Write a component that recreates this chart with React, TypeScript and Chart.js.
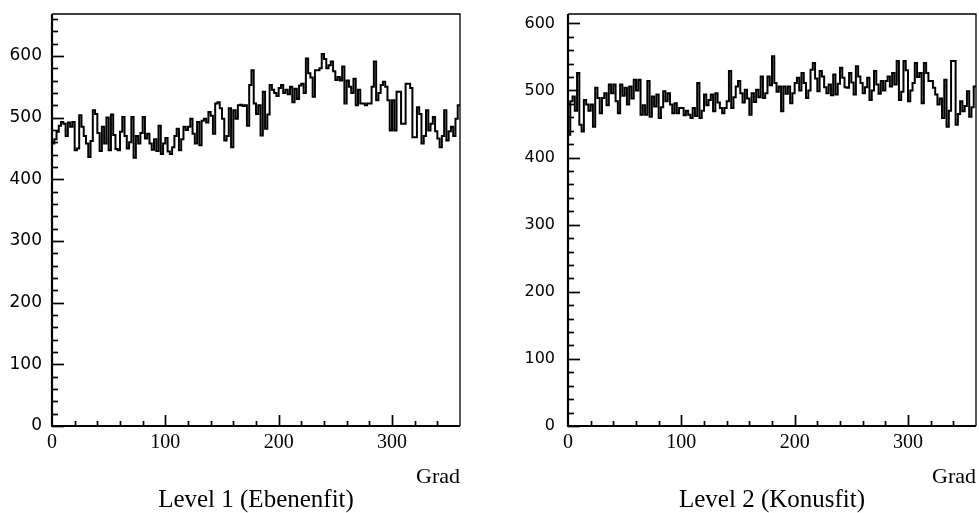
import React, { useEffect, useRef } from "react";
import { Chart, registerables } from "chart.js";

Chart.register(...registerables);

// ---------- data ----------
const BIN_WIDTH = 2; // degrees per bin
const X_RANGE = [0, 360];
const X_MAJOR_STEP = 100;
const Y_MAJOR_STEP = 100;
const MINOR_STEP = 20;
const X_AXIS_LABEL = "Grad";
const PANEL_TITLES = ["Level 1 (Ebenenfit)", "Level 2 (Konusfit)"];
const PANEL_Y_MAX = [668, 614];

// Level 1 (Ebenenfit): counts per 2-degree bin, 0..360
const LEVEL1_COUNTS = [
  458, 465, 477, 487, 493, 490, 470, 492, 485, 493,
  447, 450, 504, 485, 470, 458, 436, 462, 512, 506,
  475, 446, 485, 458, 500, 447, 505, 472, 449, 447,
  477, 501, 470, 450, 460, 501, 435, 470, 458, 475,
  501, 466, 474, 458, 448, 465, 446, 487, 441, 458,
  467, 445, 441, 452, 470, 482, 447, 465, 485, 480,
  485, 498, 474, 458, 493, 455, 495, 498, 492, 509,
  503, 474, 523, 525, 515, 498, 463, 470, 515, 452,
  512, 498, 520, 521, 519, 520, 487, 553, 577, 523,
  506, 520, 471, 542, 482, 505, 553, 545, 540, 535,
  548, 553, 540, 545, 538, 550, 525, 547, 530, 552,
  555, 540, 596, 572, 565, 534, 577, 577, 580, 603,
  595, 580, 585, 591, 575, 561, 566, 560, 583, 523,
  560, 550, 540, 563, 520, 545, 523, 523, 520, 523,
  523, 550, 591, 528, 540, 553, 558, 550, 528, 479,
  528, 479, 542, 542, 490, 490, 555, 555, 548, 468,
  468, 517, 506, 458, 470, 512, 479, 490, 501, 478,
  466, 452, 470, 512, 463, 478, 485, 470, 498, 520,
];

// Level 2 (Konusfit): counts per 2-degree bin, 0..360
const LEVEL2_COUNTS = [
  434, 484, 491, 470, 526, 449, 439, 486, 479, 470,
  479, 446, 504, 489, 466, 489, 496, 478, 509, 496,
  509, 484, 466, 509, 492, 504, 479, 506, 488, 516,
  500, 516, 464, 478, 464, 514, 461, 491, 476, 494,
  459, 475, 499, 484, 496, 479, 466, 481, 466, 474,
  474, 463, 470, 464, 459, 474, 462, 511, 459, 470,
  494, 478, 486, 494, 469, 496, 482, 474, 466, 474,
  484, 529, 474, 490, 506, 514, 496, 482, 501, 488,
  464, 496, 483, 501, 490, 521, 489, 496, 521, 508,
  551, 511, 498, 506, 469, 506, 495, 506, 481, 496,
  511, 519, 500, 526, 511, 489, 500, 531, 541, 518,
  499, 529, 521, 505, 496, 509, 493, 524, 494, 510,
  534, 519, 505, 504, 526, 512, 494, 536, 521, 511,
  496, 505, 519, 486, 500, 529, 509, 495, 514, 500,
  514, 521, 506, 526, 509, 544, 486, 498, 544, 530,
  484, 500, 511, 541, 520, 526, 481, 541, 526, 514,
  514, 504, 494, 479, 488, 459, 516, 446, 470, 544,
  544, 449, 465, 484, 469, 477, 499, 461, 475, 506,
];

// ---------- helpers ----------
function histogramPoints(counts: number[]) {
  const pts = counts.map((v, i) => ({ x: X_RANGE[0] + i * BIN_WIDTH, y: v }));
  pts.push({ x: X_RANGE[1], y: counts[counts.length - 1] });
  return pts;
}

const frameTicksPlugin = {
  id: "frameTicks",
  afterDatasetsDraw(chart: any) {
    const { ctx, chartArea } = chart;
    const { left, right, top, bottom } = chartArea;
    const xs = chart.scales.x;
    const ys = chart.scales.y;
    ctx.save();
    ctx.strokeStyle = "#000";
    ctx.lineCap = "butt";
    ctx.lineWidth = 1.7;
    for (let v = 0; v <= ys.max; v += MINOR_STEP) {
      const py = Math.round(ys.getPixelForValue(v)) + 0.5;
      const len = v % Y_MAJOR_STEP === 0 ? 12 : 6;
      ctx.beginPath();
      ctx.moveTo(left, py);
      ctx.lineTo(left + len, py);
      ctx.stroke();
    }
    for (let v = X_RANGE[0] + MINOR_STEP; v < X_RANGE[1]; v += MINOR_STEP) {
      const px = Math.round(xs.getPixelForValue(v)) + 0.5;
      const len = v % X_MAJOR_STEP === 0 ? 11 : 5;
      ctx.beginPath();
      ctx.moveTo(px, bottom);
      ctx.lineTo(px, bottom - len);
      ctx.stroke();
    }
    ctx.lineWidth = 1.3;
    ctx.beginPath();
    ctx.moveTo(left, top);
    ctx.lineTo(right, top);
    ctx.lineTo(right, bottom);
    ctx.stroke();
    ctx.lineWidth = 2.2;
    ctx.beginPath();
    ctx.moveTo(left, top);
    ctx.lineTo(left, bottom);
    ctx.lineTo(right, bottom);
    ctx.stroke();
    ctx.restore();
  },
};

type PanelProps = {
  counts: number[];
  yMax: number;
  title: string;
  left: number;
  width: number;
  height: number;
  yAxisWidth: number;
  padRight: number;
  yTickSize: number;
  yTickPad: number;
};

function HistogramPanel(p: PanelProps) {
  const ref = useRef<HTMLCanvasElement | null>(null);
  useEffect(() => {
    if (!ref.current) return;
    const chart = new Chart(ref.current, {
      type: "line",
      data: {
        datasets: [
          {
            data: histogramPoints(p.counts),
            stepped: "before",
            borderColor: "#000",
            borderWidth: 2,
            pointRadius: 0,
            fill: false,
            tension: 0,
          } as any,
        ],
      },
      options: {
        responsive: false,
        animation: false,
        devicePixelRatio: 1,
        layout: { padding: { left: 0, top: 14, right: p.padRight, bottom: 0 } },
        scales: {
          x: {
            type: "linear",
            min: X_RANGE[0],
            max: X_RANGE[1],
            afterFit: (s: any) => {
              s.height = 62;
              s.paddingLeft = 0;
              s.paddingRight = 0;
            },
            grid: { display: false, drawTicks: false },
            border: { display: false },
            ticks: {
              stepSize: X_MAJOR_STEP,
              includeBounds: false,
              padding: 5,
              maxRotation: 0,
              color: "#000",
              font: { family: "'Liberation Serif', serif", size: 20 },
            },
            title: {
              display: true,
              text: X_AXIS_LABEL,
              align: "end",
              color: "#000",
              padding: 0,
              font: { family: "'Liberation Serif', serif", size: 22, lineHeight: 1 },
            },
          },
          y: {
            type: "linear",
            min: 0,
            max: p.yMax,
            afterFit: (s: any) => {
              s.width = p.yAxisWidth;
              s.paddingTop = 0;
              s.paddingBottom = 0;
            },
            grid: { display: false, drawTicks: false },
            border: { display: false },
            ticks: {
              stepSize: Y_MAJOR_STEP,
              includeBounds: false,
              padding: p.yTickPad,
              color: "#000",
              font: { family: "'DejaVu Sans', sans-serif", size: p.yTickSize },
            },
          },
        },
        plugins: {
          legend: { display: false },
          tooltip: { enabled: false },
          title: {
            display: true,
            text: p.title,
            position: "bottom",
            fullSize: false,
            color: "#000",
            padding: { top: 0, bottom: 0 },
            font: { family: "'Liberation Serif', serif", size: 25, weight: "normal", lineHeight: 1 },
          },
        },
      } as any,
      plugins: [frameTicksPlugin],
    });
    return () => chart.destroy();
  }, []);
  return (
    <canvas
      ref={ref}
      width={p.width}
      height={p.height}
      style={{ position: "absolute", left: p.left, top: 0, width: p.width, height: p.height }}
    />
  );
}

export default function App() {
  return (
    <div
      style={{
        position: "absolute",
        left: 0,
        top: 0,
        width: 979,
        height: 513,
        background: "#fff",
        overflow: "hidden",
      }}
    >
      <HistogramPanel
        counts={LEVEL1_COUNTS}
        yMax={PANEL_Y_MAX[0]}
        title={PANEL_TITLES[0]}
        left={0}
        width={490}
        height={513}
        yAxisWidth={52}
        padRight={30}
        yTickSize={17}
        yTickPad={10}
      />
      <HistogramPanel
        counts={LEVEL2_COUNTS}
        yMax={PANEL_Y_MAX[1]}
        title={PANEL_TITLES[1]}
        left={490}
        width={489}
        height={513}
        yAxisWidth={78}
        padRight={3}
        yTickSize={16}
        yTickPad={13}
      />
    </div>
  );
}
